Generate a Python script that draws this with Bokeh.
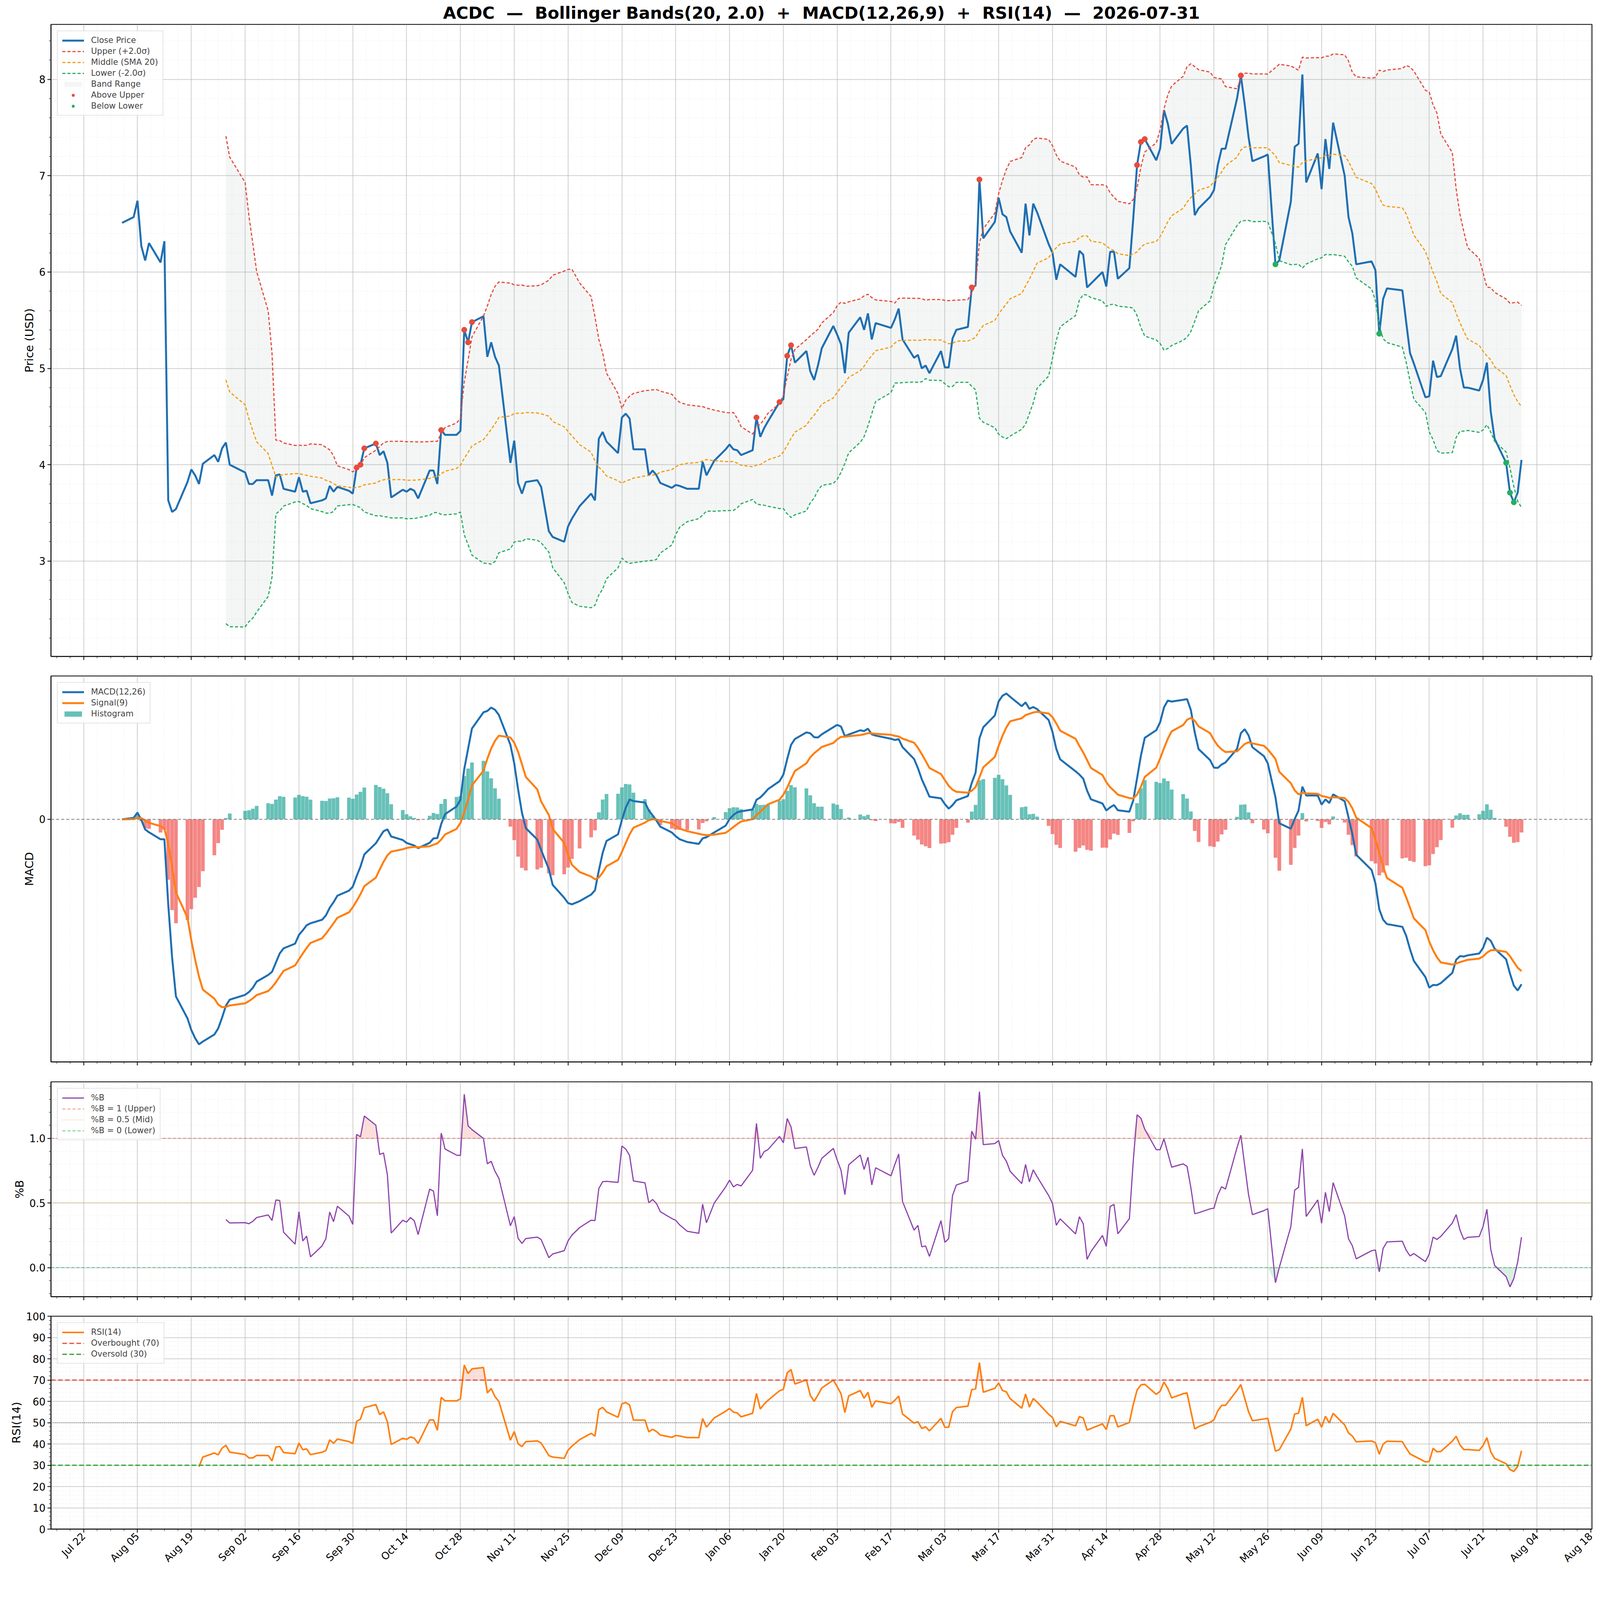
import numpy as np
import pandas as pd
from bokeh.plotting import figure
from bokeh.layouts import column
from bokeh.models import (FixedTicker, Span, Legend, LegendItem, Range1d, NumeralTickFormatter,
                          SingleIntervalTicker, ColumnDataSource, DatetimeTickFormatter)
from bokeh.embed import file_html
from bokeh.resources import INLINE

TICKER = "ACDC"
dates = ["2025-08-01","2025-08-04","2025-08-05","2025-08-06","2025-08-07","2025-08-08","2025-08-11","2025-08-12","2025-08-13","2025-08-14","2025-08-15","2025-08-18","2025-08-19","2025-08-20","2025-08-21","2025-08-22","2025-08-25","2025-08-26","2025-08-27","2025-08-28","2025-08-29",
"2025-09-02","2025-09-03","2025-09-04","2025-09-05","2025-09-08","2025-09-09","2025-09-10","2025-09-11","2025-09-12","2025-09-15","2025-09-16","2025-09-17","2025-09-18","2025-09-19","2025-09-22","2025-09-23","2025-09-24","2025-09-25","2025-09-26","2025-09-29","2025-09-30",
"2025-10-01","2025-10-02","2025-10-03","2025-10-06","2025-10-07","2025-10-08","2025-10-09","2025-10-10","2025-10-13","2025-10-14","2025-10-15","2025-10-16","2025-10-17","2025-10-20","2025-10-21","2025-10-22","2025-10-23","2025-10-24","2025-10-27","2025-10-28","2025-10-29","2025-10-30","2025-10-31",
"2025-11-03","2025-11-04","2025-11-05","2025-11-06","2025-11-07","2025-11-10","2025-11-11","2025-11-12","2025-11-13","2025-11-14","2025-11-17","2025-11-18","2025-11-20","2025-11-21","2025-11-24","2025-11-25","2025-11-26","2025-11-28",
"2025-12-01","2025-12-02","2025-12-03","2025-12-04","2025-12-05","2025-12-08","2025-12-09","2025-12-10","2025-12-11","2025-12-12","2025-12-15","2025-12-16","2025-12-17","2025-12-18","2025-12-19","2025-12-22","2025-12-23","2025-12-24","2025-12-26","2025-12-29","2025-12-30","2025-12-31",
"2026-01-02","2026-01-05","2026-01-06","2026-01-07","2026-01-08","2026-01-09","2026-01-12","2026-01-13","2026-01-14","2026-01-15","2026-01-16","2026-01-19","2026-01-20","2026-01-21","2026-01-22","2026-01-23","2026-01-26","2026-01-27","2026-01-28","2026-01-29","2026-01-30",
"2026-02-02","2026-02-03","2026-02-04","2026-02-05","2026-02-06","2026-02-09","2026-02-10","2026-02-11","2026-02-12","2026-02-13","2026-02-17","2026-02-18","2026-02-19","2026-02-20","2026-02-23","2026-02-24","2026-02-25","2026-02-26","2026-02-27",
"2026-03-02","2026-03-03","2026-03-04","2026-03-05","2026-03-06","2026-03-09","2026-03-10","2026-03-11","2026-03-12","2026-03-13","2026-03-16","2026-03-17","2026-03-18","2026-03-19","2026-03-20","2026-03-23","2026-03-24","2026-03-25","2026-03-26","2026-03-27","2026-03-30","2026-03-31",
"2026-04-01","2026-04-02","2026-04-06","2026-04-07","2026-04-08","2026-04-09","2026-04-10","2026-04-13","2026-04-14","2026-04-15","2026-04-16","2026-04-17","2026-04-20","2026-04-21","2026-04-22","2026-04-23","2026-04-24","2026-04-27","2026-04-28","2026-04-29","2026-04-30",
"2026-05-01","2026-05-04","2026-05-05","2026-05-06","2026-05-07","2026-05-08","2026-05-11","2026-05-12","2026-05-13","2026-05-14","2026-05-15","2026-05-18","2026-05-19","2026-05-20","2026-05-21","2026-05-22","2026-05-25","2026-05-26","2026-05-28","2026-05-29",
"2026-06-01","2026-06-02","2026-06-03","2026-06-04","2026-06-05","2026-06-08","2026-06-09","2026-06-10","2026-06-11","2026-06-12","2026-06-15","2026-06-16","2026-06-17","2026-06-18","2026-06-22","2026-06-23","2026-06-24","2026-06-25","2026-06-26","2026-06-30",
"2026-07-01","2026-07-02","2026-07-03","2026-07-06","2026-07-07","2026-07-08","2026-07-09","2026-07-10","2026-07-13","2026-07-14","2026-07-15","2026-07-16","2026-07-17","2026-07-20","2026-07-21","2026-07-22","2026-07-23","2026-07-24","2026-07-27","2026-07-28","2026-07-29","2026-07-30","2026-07-31"]
close = [6.51,6.57,6.74,6.27,6.12,6.30,6.10,6.32,3.63,3.51,3.54,3.82,3.95,3.89,3.80,4.01,4.10,4.03,4.17,4.23,4.00,
3.92,3.80,3.80,3.84,3.84,3.68,3.89,3.90,3.75,3.72,3.87,3.72,3.73,3.60,3.63,3.65,3.78,3.72,3.77,3.73,3.70,
3.97,4.00,4.17,4.22,4.10,4.14,4.02,3.66,3.74,3.72,3.75,3.73,3.65,3.94,3.94,3.80,4.36,4.31,4.31,4.35,5.40,5.27,5.48,
5.54,5.12,5.27,5.12,5.03,4.02,4.25,3.81,3.70,3.82,3.84,3.77,3.31,3.25,3.20,3.36,3.44,3.57,
3.70,3.63,4.27,4.34,4.24,4.12,4.49,4.53,4.48,4.16,4.16,3.89,3.94,3.89,3.81,3.76,3.79,3.78,3.75,3.75,4.03,3.89,
4.04,4.16,4.21,4.16,4.15,4.10,4.15,4.49,4.29,4.38,4.45,4.65,4.68,5.13,5.24,5.06,5.18,4.97,4.88,5.03,5.21,
5.44,5.35,5.25,4.95,5.37,5.53,5.40,5.57,5.30,5.47,5.42,5.51,5.62,5.30,5.11,5.14,5.00,5.03,4.95,
5.18,5.01,5.01,5.31,5.40,5.43,5.84,5.86,6.96,6.35,6.52,6.77,6.60,6.57,6.42,6.20,6.71,6.38,6.71,6.62,6.29,6.20,
5.92,6.08,5.95,6.22,6.18,5.84,5.88,6.00,5.85,6.21,6.21,5.93,6.04,6.55,7.11,7.35,7.38,7.16,7.28,7.68,7.54,
7.33,7.49,7.52,7.10,6.59,6.66,6.78,6.85,7.11,7.28,7.28,7.80,8.04,7.74,7.40,7.15,7.20,7.22,6.08,6.12,
6.73,7.30,7.33,8.05,6.93,7.23,6.86,7.38,7.07,7.55,7.00,6.57,6.40,6.08,6.11,6.02,5.36,5.72,5.83,5.81,
5.48,5.16,5.05,4.70,4.71,5.08,4.91,4.92,5.20,5.34,5.00,4.80,4.80,4.77,4.88,5.06,4.55,4.27,4.02,3.71,3.61,3.71,4.05]

BB_N, BB_K = 20, 2.0
FAST, SLOW, SIG = 12, 26, 9
RSI_N = 14
TICK_START = "2025-07-22"
X_START, X_END = "2025-07-13 12:00", "2026-08-18 08:00"

# ---------- indicators ----------
idx = pd.to_datetime(dates)
s = pd.Series(close, index=idx)
mid = s.rolling(BB_N).mean()
sd = s.rolling(BB_N).std()
up = mid + BB_K * sd
lo = mid - BB_K * sd
pctb = (s - lo) / (up - lo)
macd = s.ewm(span=FAST, adjust=False).mean() - s.ewm(span=SLOW, adjust=False).mean()
sig = macd.ewm(span=SIG, adjust=False).mean()
hist = macd - sig
d = s.diff()
gain = d.clip(lower=0).ewm(alpha=1 / RSI_N, adjust=False, min_periods=RSI_N).mean()
loss = (-d.clip(upper=0)).ewm(alpha=1 / RSI_N, adjust=False, min_periods=RSI_N).mean()
rsi = 100 - 100 / (1 + gain / loss)

src = ColumnDataSource(dict(x=idx, close=s.values, mid=mid.values, up=up.values, lo=lo.values,
                            pctb=pctb.values, macd=macd.values, sig=sig.values, rsi=rsi.values))
bbm = ~np.isnan(mid.values)
band = ColumnDataSource(dict(x=idx[bbm], up=up.values[bbm], lo=lo.values[bbm], mid=mid.values[bbm],
                             pctb=pctb.values[bbm],
                             b_hi=np.where(pctb.values[bbm] > 1, pctb.values[bbm], 1.0),
                             b_lo=np.where(pctb.values[bbm] < 0, pctb.values[bbm], 0.0)))
rm = ~np.isnan(rsi.values)
rsrc = ColumnDataSource(dict(x=idx[rm], rsi=rsi.values[rm],
                             r_hi=np.where(rsi.values[rm] > 70, rsi.values[rm], 70.0),
                             r_lo=np.where(rsi.values[rm] < 30, rsi.values[rm], 30.0)))
above = (s > up).values
below = (s < lo).values
hpos = hist.values >= 0

# ---------- ticks ----------
DAY = 86400000
t0 = pd.Timestamp(TICK_START)
major = [(t0 + pd.Timedelta(days=14 * i)).value // 10**6 for i in range(-1, 30)]
minor = [(t0 + pd.Timedelta(hours=84 * i)).value // 10**6 for i in range(-4, 118)]
xr = Range1d(pd.Timestamp(X_START), pd.Timestamp(X_END))
XS, XE = pd.Timestamp(X_START), pd.Timestamp(X_END)

FONT = "DejaVu Sans"
W = 4090
NB = "\u00a0\u00a0"


def base(h, top=20, bottom=16, show_x=False):
    p = figure(width=W, height=h, x_axis_type="datetime", x_range=xr, output_backend="svg",
               toolbar_location=None, min_border_left=130, min_border_right=15,
               min_border_top=top, min_border_bottom=bottom)
    p.outline_line_color = "black"
    p.outline_line_width = 2
    p.xaxis.ticker = FixedTicker(ticks=major, minor_ticks=minor)
    p.xaxis.formatter = DatetimeTickFormatter(days="%b %d", months="%b %d", hours="%b %d")
    for ax in p.axis:
        ax.axis_line_width = 2
        ax.major_tick_in = 0
        ax.major_tick_out = 9
        ax.minor_tick_in = 0
        ax.minor_tick_out = 5
        ax.major_tick_line_width = 2
        ax.major_label_text_font = FONT
        ax.major_label_text_font_size = "26px"
        ax.major_label_text_color = "black"
        ax.axis_label_text_font = FONT
        ax.axis_label_text_font_size = "29px"
        ax.axis_label_text_font_style = "normal"
        ax.axis_label_text_color = "black"
    if show_x:
        p.xaxis.major_label_orientation = np.pi / 4
    else:
        p.xaxis.major_label_text_font_size = "1px"
        p.xaxis.major_label_text_alpha = 0
        p.xaxis.major_label_standoff = 0
    p.xgrid.grid_line_color = "#b0b0b0"
    p.xgrid.grid_line_alpha = 0.6
    p.xgrid.grid_line_width = 2
    p.xgrid.minor_grid_line_color = "#c8c8c8"
    p.xgrid.minor_grid_line_alpha = 0.5
    p.xgrid.minor_grid_line_dash = "2 4"
    p.ygrid.grid_line_color = "#b0b0b0"
    p.ygrid.grid_line_alpha = 0.6
    p.ygrid.grid_line_width = 2
    p.ygrid.minor_grid_line_color = "#c8c8c8"
    p.ygrid.minor_grid_line_alpha = 0.5
    p.ygrid.minor_grid_line_dash = "2 4"
    return p


def add_legend(p, items):
    lg = Legend(items=items, location="top_left", label_text_font=FONT, label_text_font_size="21px",
                glyph_width=56, glyph_height=17, label_height=17, spacing=4, padding=11, margin=16,
                border_line_color="#cccccc", border_line_width=2, background_fill_alpha=0.85,
                label_standoff=18)
    p.add_layout(lg)


# ---------- price ----------
p1 = base(1696, top=0, bottom=16)
p1.title.text = f"{TICKER}{NB}—{NB}Bollinger Bands({BB_N}, {BB_K}){NB}+{NB}MACD({FAST},{SLOW},{SIG}){NB}+{NB}RSI({RSI_N}){NB}—{NB}2026-07-31"
p1.title.text_font = FONT
p1.title.text_font_size = "43px"
p1.title.text_font_style = "bold"
p1.title.text_color = "black"
p1.title.align = "center"
p1.y_range = Range1d(2.01, 8.57)
p1.yaxis.ticker = SingleIntervalTicker(interval=1, num_minor_ticks=5)
p1.yaxis.axis_label = "Price (USD)"
r_band = p1.varea(x="x", y1="lo", y2="up", source=band, fill_color="#95a5a6", fill_alpha=0.1)
r_close = p1.line("x", "close", source=src, line_color="#1f6fb2", line_width=5)
r_up = p1.line("x", "up", source=band, line_color="#e74c3c", line_width=3, line_dash="8 5")
r_mid = p1.line("x", "mid", source=band, line_color="#f39c12", line_width=3, line_dash="8 5")
r_lo = p1.line("x", "lo", source=band, line_color="#27ae60", line_width=3, line_dash="8 5")
r_ab = p1.scatter(idx[above], s.values[above], size=14, color="#e74c3c")
r_be = p1.scatter(idx[below], s.values[below], size=14, color="#27ae60")
add_legend(p1, [LegendItem(label="Close Price", renderers=[r_close]),
                LegendItem(label="Upper (+2.0σ)", renderers=[r_up]),
                LegendItem(label="Middle (SMA 20)", renderers=[r_mid]),
                LegendItem(label="Lower (-2.0σ)", renderers=[r_lo]),
                LegendItem(label="Band Range", renderers=[r_band]),
                LegendItem(label="Above Upper", renderers=[r_ab]),
                LegendItem(label="Below Lower", renderers=[r_be])])

# ---------- MACD ----------
p2 = base(1038, top=34, bottom=16)
p2.yaxis.ticker = FixedTicker(ticks=[0])
p2.yaxis.axis_label = "MACD"
p2.ygrid.grid_line_color = None
lo2 = min(np.nanmin(macd), np.nanmin(sig), np.nanmin(hist))
hi2 = max(np.nanmax(macd), np.nanmax(sig), np.nanmax(hist))
pad = (hi2 - lo2) * 0.05
p2.y_range = Range1d(lo2 - pad, hi2 + pad)
r_hp = p2.vbar(x=idx[hpos], top=hist.values[hpos], bottom=0, width=DAY * 0.95,
               fill_color="#26a69a", fill_alpha=0.7, line_color=None)
p2.vbar(x=idx[~hpos], top=hist.values[~hpos], bottom=0, width=DAY * 0.95,
        fill_color="#ef5350", fill_alpha=0.7, line_color=None)
p2.add_layout(Span(location=0, dimension="width", line_color="#808080", line_width=2, line_dash="8 5"))
r_m = p2.line("x", "macd", source=src, line_color="#1f6fb2", line_width=5)
r_s = p2.line("x", "sig", source=src, line_color="#ff7f0e", line_width=5)
add_legend(p2, [LegendItem(label="MACD(12,26)", renderers=[r_m]),
                LegendItem(label="Signal(9)", renderers=[r_s]),
                LegendItem(label="Histogram", renderers=[r_hp])])

# ---------- %B ----------
p3 = base(601, top=35, bottom=16)
bmin = np.nanmin(pctb.values); bmax = np.nanmax(pctb.values)
bp = (bmax - bmin) * 0.05
p3.y_range = Range1d(bmin - bp, bmax + bp)
p3.yaxis.ticker = SingleIntervalTicker(interval=0.5, num_minor_ticks=5)
p3.yaxis.formatter = NumeralTickFormatter(format="0.0")
p3.yaxis.axis_label = "%B"
p3.varea(x="x", y1=1.0, y2="b_hi", source=band, fill_color="#e74c3c", fill_alpha=0.18)
p3.varea(x="x", y1="b_lo", y2=0.0, source=band, fill_color="#27ae60", fill_alpha=0.18)
r_b = p3.line("x", "pctb", source=band, line_color="#8e44ad", line_width=3)
r_b1 = p3.line([XS, XE], [1, 1], line_color="#e74c3c", line_alpha=0.6, line_width=2, line_dash="8 5")
r_b5 = p3.line([XS, XE], [0.5, 0.5], line_color="#f39c12", line_alpha=0.6, line_width=2, line_dash="2 3")
r_b0 = p3.line([XS, XE], [0, 0], line_color="#27ae60", line_alpha=0.7, line_width=2, line_dash="8 5")
add_legend(p3, [LegendItem(label="%B", renderers=[r_b]),
                LegendItem(label="%B = 1 (Upper)", renderers=[r_b1]),
                LegendItem(label="%B = 0.5 (Mid)", renderers=[r_b5]),
                LegendItem(label="%B = 0 (Lower)", renderers=[r_b0])])

# ---------- RSI ----------
p4 = base(684, top=34, bottom=100, show_x=True)
p4.y_range = Range1d(0, 100)
p4.yaxis.ticker = SingleIntervalTicker(interval=10, num_minor_ticks=5)
p4.yaxis.axis_label = "RSI(14)"
p4.varea(x="x", y1=70.0, y2="r_hi", source=rsrc, fill_color="#e74c3c", fill_alpha=0.18)
p4.varea(x="x", y1="r_lo", y2=30.0, source=rsrc, fill_color="#27ae60", fill_alpha=0.18)
p4.add_layout(Span(location=50, dimension="width", line_color="#808080", line_width=2, line_dash="2 3"))
r_r = p4.line("x", "rsi", source=rsrc, line_color="#ff7f0e", line_width=4)
r_70 = p4.line([XS, XE], [70, 70], line_color="#e74c3c", line_width=3, line_dash="12 6")
r_30 = p4.line([XS, XE], [30, 30], line_color="#2ca02c", line_width=3, line_dash="12 6")
add_legend(p4, [LegendItem(label="RSI(14)", renderers=[r_r]),
                LegendItem(label="Overbought (70)", renderers=[r_70]),
                LegendItem(label="Oversold (30)", renderers=[r_30])])

layout = column(p1, p2, p3, p4, spacing=0)
open("out.html", "w").write(file_html(layout, INLINE))
